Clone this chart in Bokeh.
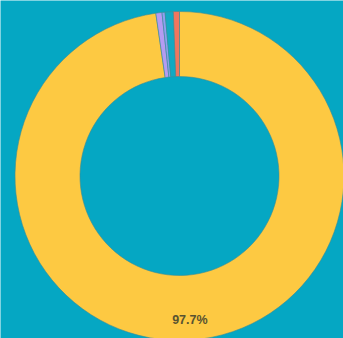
import numpy as np
from bokeh.plotting import figure
from bokeh.models import ColumnDataSource
from bokeh.core.properties import value
from bokeh.embed import file_html
from bokeh.resources import INLINE

# data
categories = ["A", "B", "C", "D", "E"]
shares = [97.7, 0.6, 0.3, 0.8, 0.6]
colors = ["#fdc942", "#b49cf2", "#8f9ff0", "#12a9c2", "#f0765e"]
label_text = ["97.7%", "", "", "", ""]

W, H = 343, 338
bg = "#05a7c3"
p = figure(width=W, height=H, x_range=(0, W), y_range=(0, H),
           output_backend="svg", toolbar_location=None,
           min_border=0, outline_line_color=None,
           background_fill_color=bg, border_fill_color=bg)
p.axis.visible = False
p.grid.visible = False

cx, cy = 179, 162.5
r_out, r_in = 164.5, 99.5

vals = np.array(shares, dtype=float)
frac = vals / vals.sum()
cum_end = np.cumsum(frac)
cum_start = cum_end - frac
start = np.pi / 2 - cum_start * 2 * np.pi
end = np.pi / 2 - cum_end * 2 * np.pi
mid = (start + end) / 2
lr = 0.875 * r_out

src = ColumnDataSource(dict(cat=categories, start=start, end=end, color=colors,
                            lx=cx + lr * np.cos(mid), ly=cy + lr * np.sin(mid),
                            label=label_text))

p.annular_wedge(x=cx, y=cy, inner_radius=r_in, outer_radius=r_out,
                start_angle="start", end_angle="end", direction="clock",
                fill_color="color", line_color="#3f8d96", line_width=0.6,
                source=src)

p.text(x="lx", y="ly", text="label", source=src, text_align="center",
       text_baseline="middle", text_font=value("Liberation Sans"),
       text_font_size="12.5px", text_font_style="bold", text_color="#585331")

open("out.html", "w").write(file_html(p, INLINE))
